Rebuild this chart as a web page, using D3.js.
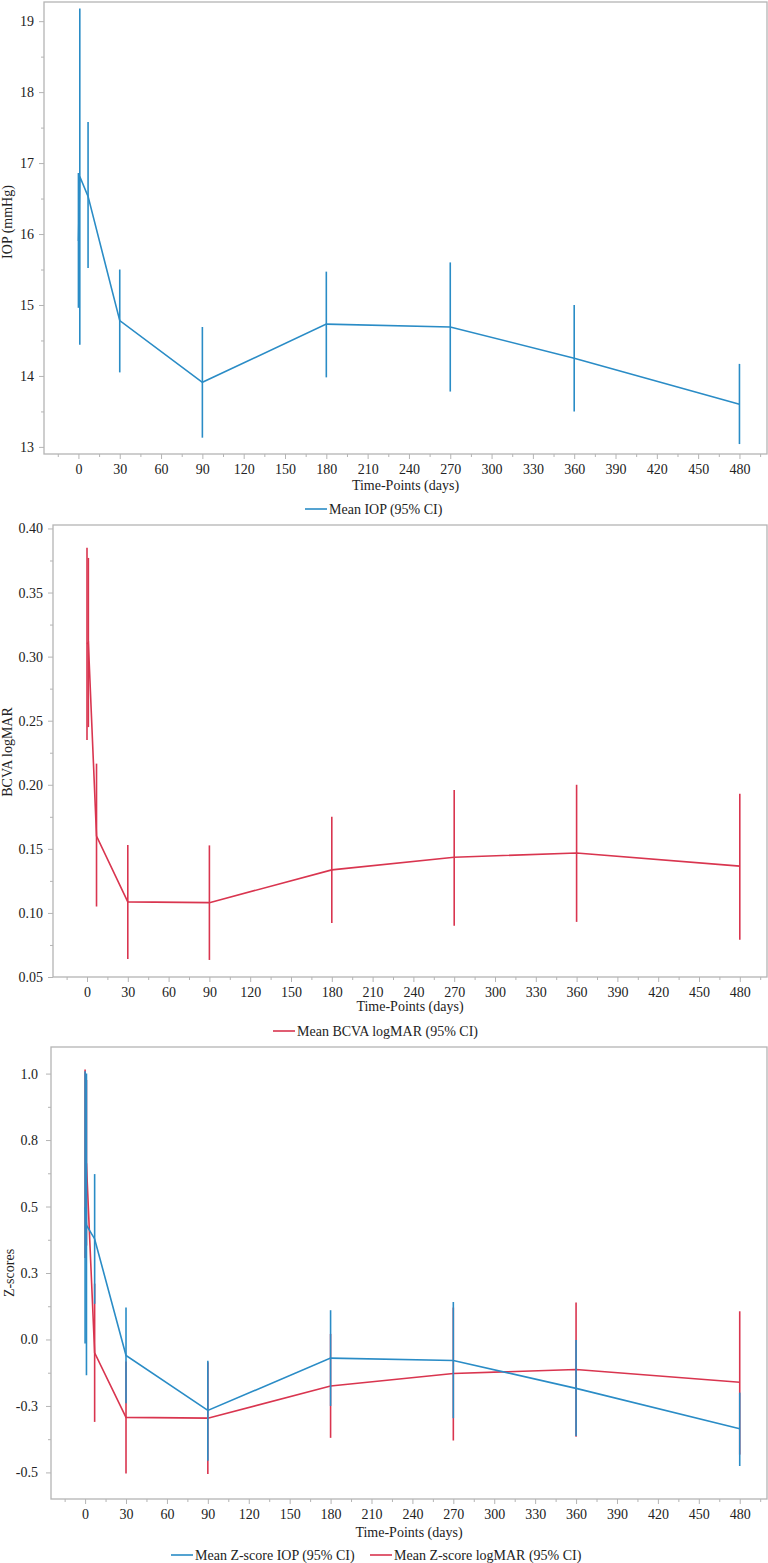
<!DOCTYPE html>
<html>
<head>
<meta charset="utf-8">
<script src="https://cdn.jsdelivr.net/npm/d3@7"></script>
<style>
  body { margin: 0; background: #fff; }
  svg { display: block; }
  text { font-family: "Liberation Serif", "Times New Roman", serif; fill: #222; }
</style>
</head>
<body>
<script>
const days = [0, 1, 7, 30, 90, 180, 270, 360, 480];
const xTicks = d3.range(0, 481, 30);

// panel 1 - IOP
const iopMean = [15.9, 16.81, 16.53, 14.78, 13.91, 14.73, 14.69, 14.25, 13.6];
const iopLow  = [14.96, 14.44, 15.52, 14.05, 13.13, 13.98, 13.78, 13.5, 13.04];
const iopHigh = [16.86, 19.18, 17.58, 15.5, 14.69, 15.47, 15.6, 15.0, 14.17];

// panel 2 - BCVA logMAR
const bcvaMean = [0.31, 0.311, 0.16, 0.1086, 0.108, 0.1336, 0.1435, 0.1467, 0.1365];
const bcvaLow  = [0.235, 0.245, 0.105, 0.064, 0.0633, 0.0922, 0.09, 0.093, 0.079];
const bcvaHigh = [0.385, 0.377, 0.2165, 0.153, 0.1527, 0.175, 0.196, 0.2, 0.193];

// panel 3 - z-scores
const zIopMean = [0.497, 0.43, 0.378, -0.06, -0.267, -0.07, -0.079, -0.184, -0.336];
const zIopLow  = [-0.015, -0.135, 0.134, -0.24, -0.456, -0.25, -0.296, -0.363, -0.476];
const zIopHigh = [1.009, 1.0, 0.622, 0.12, -0.08, 0.11, 0.141, -0.002, -0.2];
const zVaMean  = [0.66, 0.66, -0.05, -0.293, -0.296, -0.175, -0.128, -0.113, -0.161];
const zVaLow   = [0.306, 0.353, -0.31, -0.504, -0.506, -0.37, -0.38, -0.366, -0.433];
const zVaHigh  = [1.015, 0.976, 0.21, -0.083, -0.086, 0.021, 0.12, 0.139, 0.106];

const blue = "#2a8cc6";
const red = "#d9354f";
const frameColor = "#b4b4b4";
const serif = "'Liberation Serif', 'Times New Roman', serif";

const svg = d3.select("body").append("svg")
    .attr("width", 768)
    .attr("height", 1563)
    .style("font-family", serif);

function panel(opt) {
    const g = svg.append("g");
    const x = d3.scaleLinear().domain([-25, 500]).range([opt.left, 767]);
    const y = d3.scaleLinear().domain(opt.yDomain).range([opt.bottom, opt.top]);
    const [y0, y1] = opt.yDomain;

    // minor ticks
    g.append("g")
        .attr("transform", `translate(0,${opt.bottom})`)
        .call(d3.axisBottom(x).tickValues(d3.range(-15, 500, 30)).tickSize(3).tickFormat(""))
        .call(a => a.select(".domain").remove())
        .call(a => a.selectAll("line").attr("stroke", frameColor));
    g.append("g")
        .attr("transform", `translate(${opt.left},0)`)
        .call(d3.axisLeft(y).tickValues(opt.yMinor.filter(v => v > y0 && v < y1)).tickSize(3).tickFormat(""))
        .call(a => a.select(".domain").remove())
        .call(a => a.selectAll("line").attr("stroke", frameColor));

    // major ticks
    const xa = g.append("g")
        .attr("transform", `translate(0,${opt.bottom})`)
        .call(d3.axisBottom(x).tickValues(xTicks).tickSize(5).tickPadding(5).tickFormat(d3.format("d")));
    xa.attr("font-family", null).style("font-family", serif);
    xa.select(".domain").remove();
    xa.selectAll("line").attr("stroke", frameColor);
    xa.selectAll("text").attr("font-size", 14).attr("fill", "#222").style("font-family", serif);

    const ya = g.append("g")
        .attr("transform", `translate(${opt.left},0)`)
        .call(d3.axisLeft(y).tickValues(opt.yTicks).tickSize(5).tickPadding(opt.yPad).tickFormat(opt.yFormat));
    ya.attr("font-family", null).style("font-family", serif);
    ya.select(".domain").remove();
    ya.selectAll("line").attr("stroke", frameColor);
    ya.selectAll("text").attr("font-size", 14).attr("fill", "#222").style("font-family", serif);

    // frame
    g.append("rect")
        .attr("x", opt.left)
        .attr("y", opt.top)
        .attr("width", 767 - opt.left)
        .attr("height", opt.bottom - opt.top)
        .attr("fill", "none")
        .attr("stroke", frameColor)
        .attr("stroke-width", 1.3);

    // series
    opt.series.forEach(s => {
        const pts = days.map((d, i) => ({ d: d, m: s.mean[i], lo: s.low[i], hi: s.high[i] }));
        g.append("g").selectAll("line")
            .data(pts)
            .enter()
            .append("line")
            .attr("x1", p => x(p.d))
            .attr("x2", p => x(p.d))
            .attr("y1", p => y(p.lo))
            .attr("y2", p => y(p.hi))
            .attr("stroke", s.color)
            .attr("stroke-width", 1.6);
        g.append("path")
            .datum(pts)
            .attr("fill", "none")
            .attr("stroke", s.color)
            .attr("stroke-width", 1.6)
            .attr("d", d3.line().x(p => x(p.d)).y(p => y(p.m)));
    });

    // axis titles
    g.append("text")
        .attr("x", (opt.left + 767) / 2)
        .attr("y", opt.titleY)
        .attr("text-anchor", "middle")
        .attr("font-size", 14)
        .text("Time-Points (days)");
    g.append("text")
        .attr("transform", `translate(${opt.yLabelX},${opt.yLabelY}) rotate(-90)`)
        .attr("text-anchor", "middle")
        .attr("font-size", 14)
        .text(opt.yLabel);

    // legend
    const lg = g.append("g");
    opt.legend.forEach(l => {
        lg.append("line")
            .attr("x1", l.x).attr("x2", l.x + 22)
            .attr("y1", opt.legendY - 5).attr("y2", opt.legendY - 5)
            .attr("stroke", l.color)
            .attr("stroke-width", 1.6);
        lg.append("text")
            .attr("x", l.x + 24)
            .attr("y", opt.legendY)
            .attr("font-size", 14)
            .text(l.text);
    });
}

panel({
    left: 44, top: 2, bottom: 454,
    yDomain: [12.9, 19.27],
    yTicks: d3.range(13, 19.5, 1),
    yMinor: d3.range(12.5, 19.3, 1),
    yFormat: d3.format("d"),
    yPad: 5,
    yLabel: "IOP (mmHg)", yLabelX: 12, yLabelY: 222,
    titleY: 490,
    series: [{ mean: iopMean, low: iopLow, high: iopHigh, color: blue }],
    legendY: 514,
    legend: [{ x: 305, color: blue, text: "Mean IOP (95% CI)" }]
});

panel({
    left: 53, top: 525, bottom: 977,
    yDomain: [0.05, 0.4027],
    yTicks: d3.range(0.05, 0.41, 0.05),
    yMinor: d3.range(0.075, 0.40, 0.05),
    yFormat: d3.format(".2f"),
    yPad: 5,
    yLabel: "BCVA logMAR", yLabelX: 12, yLabelY: 752,
    titleY: 1011,
    series: [{ mean: bcvaMean, low: bcvaLow, high: bcvaHigh, color: red }],
    legendY: 1036,
    legend: [{ x: 273, color: red, text: "Mean BCVA logMAR (95% CI)" }]
});

panel({
    left: 51, top: 1047, bottom: 1499,
    yDomain: [-0.6, 1.1],
    yTicks: d3.range(-0.5, 1.01, 0.25),
    yMinor: d3.range(-0.375, 1.1, 0.25),
    yFormat: v => (v < -1e-9 ? "-" : "") + Math.abs(v).toFixed(1),
    yPad: 8,
    yLabel: "Z-scores", yLabelX: 14, yLabelY: 1273,
    titleY: 1537,
    series: [
        { mean: zVaMean, low: zVaLow, high: zVaHigh, color: red },
        { mean: zIopMean, low: zIopLow, high: zIopHigh, color: blue }
    ],
    legendY: 1560,
    legend: [
        { x: 171, color: blue, text: "Mean Z-score IOP (95% CI)" },
        { x: 370, color: red, text: "Mean Z-score logMAR (95% CI)" }
    ]
});
</script>
</body>
</html>
